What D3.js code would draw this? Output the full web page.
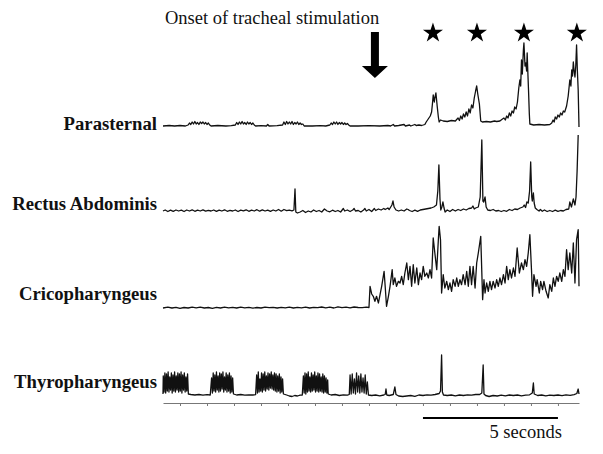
<!DOCTYPE html>
<html>
<head>
<meta charset="utf-8">
<script src="https://cdn.jsdelivr.net/npm/d3@7"></script>
<style>
  body { margin: 0; background: #fff; }
  svg { display: block; font-family: "Liberation Serif", "Times New Roman", serif; }
</style>
</head>
<body>
<div class="chart"></div>
<script>

// Muscles, top to bottom
var muscles = ["Parasternal", "Rectus Abdominis", "Cricopharyngeus", "Thyropharyngeus"];

// EMG traces: [time (s), amplitude (a.u.)]
var parasternal = [
    [-0.63,0],[-0.4,0.5],[-0.2,0],[0,0.5],[0.2,0],
    [0.30,1],[0.35,3],[0.40,1.5],[0.45,4],[0.50,2],[0.55,4.5],[0.60,2],[0.65,3.5],[0.70,1.5],[0.75,4],[0.80,2.5],[0.85,4],[0.90,2],[0.95,3.5],[1.00,1.5],[1.05,3],[1.10,1],[1.15,0],
    [1.4,0.5],[1.7,0],[1.9,0.3],
    [2.05,1],[2.10,3.5],[2.15,1.5],[2.20,4],[2.25,2],[2.30,4.5],[2.35,2],[2.40,3.5],[2.45,1.5],[2.50,4],[2.55,2],[2.60,3.5],[2.65,1.5],[2.70,3],[2.75,1],[2.80,0],
    [3.0,0.3],[3.2,0],[3.25,1.5],[3.3,0],[3.6,0.3],
    [3.80,1],[3.85,4],[3.90,1.5],[3.95,4.5],[4.00,2],[4.05,4],[4.10,2],[4.15,4.5],[4.20,1.5],[4.25,3.5],[4.30,2],[4.35,4],[4.40,1.5],[4.45,3],[4.50,1.5],[4.55,2],[4.60,0],
    [4.9,0],[5.2,0.3],[5.4,0],
    [5.55,1],[5.60,3],[5.65,1.5],[5.70,4],[5.75,2],[5.80,4],[5.85,1.5],[5.90,3.5],[5.95,2],[6.00,3.5],[6.05,1.5],[6.10,3],[6.15,1.5],[6.20,2.5],[6.25,1],[6.30,0],
    [6.6,0],[7.0,0.3],[7.4,0],[7.7,0.5],[7.8,0],[7.9,1.5],[7.95,0],[8.1,0.5],[8.3,1.5],[8.35,0],[8.5,1],[8.55,0],[8.7,1.5],[8.75,0.5],
    [8.85,1],[8.95,0.5],[9.07,1.5],[9.12,4],[9.17,6],[9.22,8],[9.27,10],[9.32,14],[9.35,22],[9.38,31],[9.42,24],[9.44,28],[9.48,33],[9.53,19],[9.57,9],[9.60,4],[9.65,6],[9.75,5],[9.9,4.5],[10.05,5.5],[10.2,5],
    [10.3,8],[10.35,5.5],[10.4,10],[10.45,7],[10.5,12],[10.55,9],[10.6,14],[10.65,10],[10.7,17],[10.75,13],[10.8,21],[10.85,18],[10.9,28],[10.95,35],[10.99,40],[11.03,32],[11.09,22],[11.14,5],[11.2,4],[11.35,4.5],[11.5,4],[11.65,5],[11.73,4.5],
    [11.85,5],[11.92,6.5],[12.0,8],[12.05,6],[12.1,10],[12.15,8],[12.2,13],[12.25,10],[12.3,15],[12.35,13],[12.4,19],[12.45,17],[12.5,24],[12.55,38],[12.59,46],[12.62,40],[12.65,66],[12.68,52],[12.72,76],[12.74,83],[12.78,60],[12.81,63],[12.84,55],[12.86,73],[12.89,50],[12.91,36],[12.94,12],[12.96,2],
    [13.1,1],[13.3,1.5],[13.5,1],[13.7,1.5],
    [13.77,3],[13.82,6],[13.86,4],[13.9,9],[13.95,7],[14.0,11],[14.05,9],[14.1,13],[14.15,11],[14.2,15],[14.25,14],[14.32,20],[14.38,30],[14.44,46],[14.48,40],[14.51,56],[14.54,50],[14.57,64],[14.6,55],[14.63,49],[14.66,60],[14.69,81],[14.72,55],[14.75,36],[14.78,-1]
];

var rectusAbdominis = [
    [-0.63,0],[-0.55,1],[-0.45,-0.5],[-0.35,0.8],[-0.25,-0.3],[-0.15,1],[-0.05,0],[0.05,0.8],[0.15,-0.5],[0.25,1],[0.35,0],[0.45,1.2],[0.55,-0.3],[0.65,0.8],[0.75,0],[0.85,1.2],[0.95,-0.2],[1.05,0.7],[1.15,0],[1.25,1],[1.35,-0.4],[1.45,0.8],[1.55,0],[1.65,1.2],[1.75,-0.3],[1.85,0.6],[1.95,0],
    [2.05,1],[2.15,-0.5],[2.25,0.8],[2.35,0.2],[2.45,1.2],[2.55,-0.3],[2.65,0.8],[2.75,0],[2.85,1.3],[2.95,-0.2],[3.05,1.2],[3.15,0],[3.25,0.8],[3.35,-0.3],[3.45,1],[3.55,0],[3.65,1.5],[3.75,-0.2],[3.85,1.5],[3.95,0.3],[4.05,0.8],[4.15,0.2],[4.22,1],
    [4.26,22],[4.29,-1],[4.35,-2],[4.45,-1],[4.55,0.5],[4.65,-1.5],[4.75,0],[4.85,-1],[4.95,1],[5.05,-0.5],[5.15,0.5],[5.25,-1],[5.35,2],[5.45,0],[5.55,-0.8],[5.65,0.8],[5.75,-0.5],[5.85,0.5],[5.95,-1],
    [6.05,2.5],[6.1,0],[6.2,1],[6.3,-0.5],[6.4,1],[6.45,2.5],[6.5,0],[6.6,0.5],[6.7,-1],[6.8,1],[6.85,2.5],[6.9,0],[7.0,1.5],[7.1,-0.5],[7.2,2.5],[7.25,0.5],[7.35,2],[7.45,1],[7.55,2.5],[7.6,1.5],[7.7,3],[7.75,1.5],[7.85,6],[7.89,10],[7.93,4],
    [8.0,1],[8.1,0],[8.2,1],[8.3,0],[8.4,2],[8.45,1.5],[8.5,0.5],[8.6,-0.5],[8.7,0.8],[8.8,-0.3],[8.9,1],[9.0,1.5],[9.1,2],[9.2,2.5],[9.3,3],[9.4,4],[9.5,6],
    [9.55,20],[9.59,46],[9.63,12],[9.66,1],[9.7,4],[9.74,9],[9.78,3],[9.82,-1],[9.9,1],[10.0,-0.5],[10.1,1.5],[10.2,0],[10.3,1.5],[10.4,0.5],[10.5,2],[10.6,1],[10.7,2.5],[10.8,3],[10.85,5],[10.9,2],[10.95,3],[11.05,4],
    [11.12,14],[11.18,71],[11.22,10],[11.25,9],[11.3,14],[11.34,4],[11.4,1],[11.5,0.5],[11.6,1.5],[11.7,0],[11.8,0.5],[11.9,-0.5],[12.0,0.5],[12.1,-0.3],[12.2,1.5],[12.3,0.5],[12.4,2],[12.5,1.5],[12.6,3],[12.7,4],[12.75,6],[12.8,3.5],[12.85,9],[12.9,8],
    [12.95,20],[12.99,49],[13.03,14],[13.05,10],[13.09,18],[13.12,8],[13.16,3],[13.22,1.5],[13.3,0],[13.35,1.5],[13.42,-0.3],[13.5,1],[13.6,-0.5],[13.7,0.5],[13.8,-0.5],[13.9,0.8],[14.0,-0.3],[14.1,0.5],[14.2,0],[14.3,1.5],[14.4,2],[14.44,9],[14.5,4],[14.57,12],[14.63,6],[14.67,14],[14.71,40],[14.75,76]
];

var cricopharyngeus = [
    [-0.63,0],[-0.45,0.8],[-0.3,0],[-0.15,0.6],[0,-0.3],[0.15,0.5],[0.3,0],[0.45,0.8],[0.6,0.2],[0.75,0.9],[0.9,0],[1.05,0.5],[1.2,-0.3],[1.35,0.6],[1.5,0],[1.65,0.8],[1.8,0.2],[1.95,0.7],[2.1,0],[2.25,0.8],[2.4,0.2],[2.55,0.6],[2.7,-0.2],[2.85,0.5],
    [3.0,0],[3.15,0.8],[3.3,0.3],[3.45,0.6],[3.6,0],[3.75,0.7],[3.9,0.2],[4.05,0.8],[4.2,0],[4.35,0.6],[4.5,0.2],[4.65,0.9],[4.8,0],[4.95,0.6],[5.1,0.3],[5.25,1],[5.4,0.2],[5.55,0.8],[5.7,0],[5.85,1.2],[6.0,0.3],[6.15,0.8],[6.3,0.2],[6.45,1],[6.6,0.5],[6.75,0.3],[6.9,0.8],[7.0,0.5],
    [7.04,21.7],[7.10,14],[7.16,11.7],[7.22,6.7],[7.28,11.7],[7.35,5],[7.41,13.3],[7.47,21.7],[7.56,36.7],[7.60,21.7],[7.65,1.7],[7.72,11.7],[7.78,21.7],[7.86,38.3],[7.90,23.3],[7.96,30],
    [8.02,21.7],[8.09,26.7],[8.15,25],[8.21,31.7],[8.27,23.3],[8.33,35],[8.40,45],[8.46,28.3],[8.52,41.7],[8.58,21.7],[8.64,43.3],[8.70,25],[8.77,40],[8.83,23.3],[8.89,35],[8.95,28.3],
    [9.01,41.7],[9.07,31.7],[9.14,35],[9.20,30],[9.26,38.3],[9.32,30],[9.38,70],[9.44,55],[9.51,38.3],[9.57,68.3],[9.60,81.7],[9.65,68.3],[9.69,15],[9.75,33.3],
    [9.81,20],[9.88,26.7],[9.94,18.3],[10.0,25],[10.06,16.7],[10.12,28.3],[10.19,21.7],[10.25,30],[10.31,21.7],[10.37,28.3],[10.43,23.3],[10.49,33.3],[10.56,23.3],[10.62,36.7],[10.68,21.7],[10.74,41.7],[10.80,23.3],[10.86,41.7],[10.93,20],[10.99,45],[11.05,55],[11.14,71.7],
    [11.21,8.3],[11.26,28.3],[11.30,15],[11.36,25],[11.42,16.7],[11.48,26.7],[11.54,18.3],[11.60,26.7],[11.67,20],[11.73,28.3],[11.79,21.7],[11.85,30],[11.91,23.3],[11.98,33.3],[12.04,25],[12.10,41.7],[12.16,28.3],[12.22,38.3],[12.28,30],[12.35,40],[12.41,31.7],[12.49,60],
    [12.57,35],[12.65,45],[12.72,38.3],[12.78,48.3],[12.84,41.7],[12.90,55],[12.96,73.3],[13.02,38.3],[13.06,11.7],[13.11,33.3],[13.19,21.7],[13.23,28.3],[13.31,15],[13.36,26.7],[13.43,18.3],[13.48,26.7],[13.56,16.7],[13.64,10],
    [13.70,23.3],[13.77,16.7],[13.83,30],[13.89,21.7],[13.95,31.7],[14.01,26.7],[14.07,35],[14.14,26.7],[14.20,38.3],[14.26,31.7],[14.32,58.3],[14.38,38.3],[14.44,55],[14.51,35],[14.57,65],[14.63,25],[14.69,68.3],[14.75,78.3],[14.78,21.7]
];

var thyropharyngeus = [
    [-0.63,0],[-0.62,18],[-0.59,2],[-0.56,21],[-0.53,1],[-0.50,20],[-0.47,3],[-0.44,22],[-0.41,2],[-0.38,17],[-0.35,4],[-0.32,21],[-0.29,1],[-0.26,19],[-0.23,3],[-0.20,22],[-0.17,2],[-0.14,18],[-0.11,4],[-0.08,21],[-0.05,2],[-0.02,20],[0.01,3],[0.04,22],[0.07,1],[0.10,19],[0.13,4],[0.16,21],[0.19,2],[0.22,17],[0.25,3],[0.28,20],[0.31,0],
    [0.4,-0.5],[0.55,-1],[0.7,-0.5],[0.85,-1.2],[1.0,-0.6],[1.12,-1],
    [1.17,16],[1.20,1],[1.23,21],[1.26,3],[1.29,19],[1.32,2],[1.35,22],[1.38,4],[1.41,18],[1.44,2],[1.47,21],[1.50,3],[1.53,20],[1.56,5],[1.59,22],[1.62,2],[1.65,17],[1.68,4],[1.71,21],[1.74,2],[1.77,19],[1.80,3],[1.83,21],[1.86,1],[1.89,18],[1.92,2],[1.95,16],[1.98,0],
    [2.1,-1],[2.25,-0.5],[2.4,-1.2],[2.55,-0.8],[2.7,-1],[2.8,-0.7],
    [2.84,19],[2.87,1],[2.90,22],[2.93,2],[2.96,15],[2.99,3],[3.02,21],[3.05,2],[3.08,20],[3.11,4],[3.14,22],[3.17,3],[3.20,18],[3.23,5],[3.26,21],[3.29,4],[3.32,20],[3.35,6],[3.38,22],[3.41,5],[3.44,19],[3.47,4],[3.50,21],[3.53,3],[3.56,20],[3.59,2],[3.62,18],[3.65,3],[3.68,20],[3.71,1],[3.74,17],[3.77,2],[3.80,15],[3.83,0],
    [3.95,-1],[4.05,-2],[4.15,-2.5],[4.25,-1.5],[4.35,-2],[4.45,-1.2],[4.53,-1],
    [4.57,18],[4.60,1],[4.63,21],[4.66,0],[4.69,20],[4.72,2],[4.75,22],[4.78,3],[4.81,17],[4.84,2],[4.87,21],[4.90,3],[4.93,19],[4.96,4],[4.99,22],[5.02,2],[5.05,18],[5.08,3],[5.11,21],[5.14,2],[5.17,20],[5.20,3],[5.23,17],[5.26,2],[5.29,20],[5.32,1],[5.35,18],[5.38,2],[5.41,16],[5.44,1],[5.47,14],[5.49,0],
    [5.6,-1],[5.75,-0.5],[5.9,-1.5],[6.05,-0.8],[6.2,-1.2],[6.27,-0.5],
    [6.30,19],[6.34,0],[6.38,20],[6.42,1],[6.46,15],[6.50,0],[6.54,21],[6.58,2],[6.62,18],[6.66,1],[6.70,20],[6.74,2],[6.78,16],[6.82,1],[6.86,19],[6.90,0],[6.94,12],[6.98,-1],
    [7.1,-1.5],[7.25,-1],[7.4,-1.8],[7.55,-1],[7.6,-0.5],[7.63,5],[7.66,-1],[7.75,-1.5],[7.9,-0.5],[7.96,7],[8.0,-0.5],[8.1,-2],[8.25,-2.5],[8.4,-2],[8.55,-1.5],[8.7,-2.3],[8.85,-1],
    [9.0,-1.5],[9.15,-0.8],[9.3,-1.2],[9.45,-0.5],[9.6,0.5],[9.65,3],[9.69,39],[9.72,2],[9.76,-1],[9.9,-1.5],[10.05,-1],[10.2,-1.8],[10.35,-1],[10.5,-1.5],[10.65,-0.8],[10.8,-1.2],[10.95,-0.5],
    [11.1,-0.5],[11.18,1],[11.23,29],[11.26,0],[11.32,-1.5],[11.45,-2.5],[11.6,-1.5],[11.75,-2],[11.9,-1.2],[12.05,-1.8],[12.2,-1],[12.35,-1.5],[12.5,-1],[12.65,-1.8],[12.8,-1.2],[12.95,-0.8],
    [13.05,1],[13.09,11],[13.12,0],[13.25,-1.5],[13.4,-1],[13.55,-1.8],[13.7,-1.2],[13.85,-1.5],[14.0,-1],[14.15,-1.6],[14.3,-0.8],[14.45,-1.3],[14.6,-0.6],[14.7,0.5],[14.75,5],[14.78,0]
];

var traces = [parasternal, rectusAbdominis, cricopharyngeus, thyropharyngeus];

// Annotations
var onsetTime = 7.22;
var onsetLabel = "Onset of tracheal stimulation";
var starTimes = [9.37, 11.0, 12.74, 14.70];
var axisTicks = [0, 1, 2, 3, 4, 5, 6, 7, 8, 9, 10, 11, 12, 13, 14];
var scaleBar = [9, 14];
var scaleLabel = "5 seconds";

// Layout
var width = 603, height = 454;
var traceBase = [126, 211, 308, 394];
var labelBase = [130, 210, 300, 388];
var axisY = 403;

var svg = d3.select(".chart")
    .append("svg")
        .attr("width", width)
        .attr("height", height);

// Time scale shared by every trace
var x = d3.scaleLinear()
    .domain([-0.63, 14.78])
    .range([163, 579]);

// Draw one trace per muscle, each on its own baseline
traces.forEach(function(data, i) {
    var y = d3.scaleLinear()
        .domain([0, 100])
        .range([traceBase[i], traceBase[i] - 100]);

    var line = d3.line()
        .x(function(d) { return x(d[0]); })
        .y(function(d) { return y(d[1]); });

    svg.append("path")
        .datum(data)
        .attr("d", line)
        .style("fill", "none")
        .style("stroke", "#111")
        .style("stroke-width", 1.3)
        .style("stroke-linejoin", "round");

    svg.append("text")
        .attr("x", 157)
        .attr("y", labelBase[i])
        .attr("text-anchor", "end")
        .style("font-size", "18.7px")
        .style("font-weight", "bold")
        .style("fill", "#111")
        .text(muscles[i]);
});

// Time axis, no labels
var axis = svg.append("g")
    .attr("transform", "translate(0," + axisY + ")")
    .call(d3.axisBottom(x).tickValues(axisTicks).tickSize(3).tickSizeOuter(0).tickFormat(""));

axis.select(".domain").style("stroke", "#777");
axis.selectAll(".tick line").style("stroke", "#777");

// Scale bar
svg.append("line")
    .attr("x1", x(scaleBar[0]))
    .attr("x2", x(scaleBar[1]))
    .attr("y1", 418)
    .attr("y2", 418)
    .style("stroke", "#000")
    .style("stroke-width", 2);

svg.append("text")
    .attr("x", x(scaleBar[1]) + 4)
    .attr("y", 438)
    .attr("text-anchor", "end")
    .style("font-size", "18.5px")
    .style("fill", "#111")
    .text(scaleLabel);

// Onset label and arrow
svg.append("text")
    .attr("x", 165)
    .attr("y", 24)
    .style("font-size", "18.5px")
    .style("fill", "#111")
    .text(onsetLabel);

var cx = x(onsetTime);
svg.append("polygon")
    .attr("points", [
        [cx - 4, 32], [cx + 4, 32], [cx + 4, 66], [cx + 13, 66],
        [cx, 78], [cx - 13, 66], [cx - 4, 66]
    ].join(" "))
    .style("fill", "#000");

// Stars above the swallows
svg.selectAll(".star")
    .data(starTimes)
    .enter()
    .append("path")
    .attr("class", "star")
    .attr("d", d3.symbol().type(d3.symbolStar).size(125))
    .attr("transform", function(d) { return "translate(" + x(d) + ",33)"; })
    .style("fill", "#000");

</script>
</body>
</html>
